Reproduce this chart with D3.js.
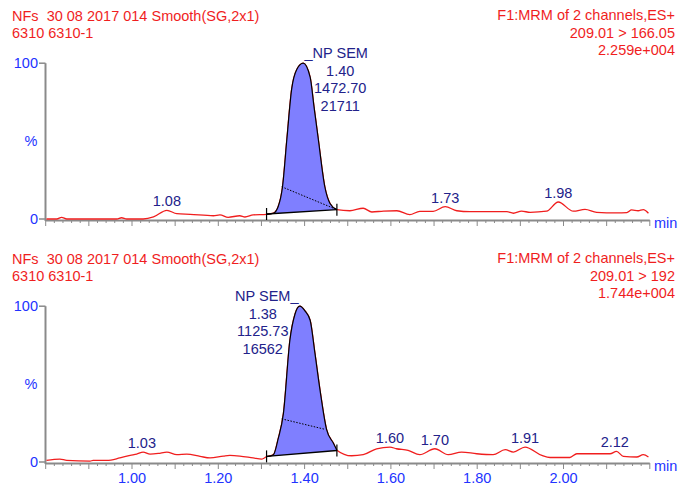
<!DOCTYPE html>
<html><head><meta charset="utf-8">
<script src="https://cdn.jsdelivr.net/npm/d3@7"></script>
<style>
body{margin:0;background:#fff;}
svg{display:block;}
text{font-family:"Liberation Sans",Arial,sans-serif;}
</style>
</head><body>
<svg id="chart" width="683" height="488"></svg>
<script>
// ---------- data ----------
const topHeaderLeft = ["NFs  30 08 2017 014 Smooth(SG,2x1)", "6310 6310-1"];
const topHeaderRight = ["F1:MRM of 2 channels,ES+", "209.01 > 166.05", "2.259e+004"];
const bottomHeaderLeft = ["NFs  30 08 2017 014 Smooth(SG,2x1)", "6310 6310-1"];
const bottomHeaderRight = ["F1:MRM of 2 channels,ES+", "209.01 > 192", "1.744e+004"];

const topTimes = [0.803,0.827,0.838,0.850,0.966,0.977,0.989,1.027,1.051,1.082,1.105,1.136,1.190,1.205,1.224,1.251,1.263,1.282,1.313,1.329,1.340,1.350,1.360,1.371,1.383,1.398,1.414,1.423,1.433,1.448,1.460,1.476,1.506,1.537,1.557,1.584,1.615,1.645,1.668,1.699,1.727,1.754,1.784,1.870,1.885,1.904,1.924,1.962,1.989,2.024,2.051,2.078,2.124,2.148,2.159,2.174,2.186,2.198];
const topValues = [0,0,1.1,0,0,0.8,0,0,1.3,5.6,3.4,3.0,2.1,2.7,1.1,2.1,1.3,2.6,3.0,3.7,8,20.7,51,83,96,100,91,72,51,20.7,10,6.0,5.3,6.9,4.5,5.1,5.3,2.8,4.9,4.9,7.9,5.3,4.7,4.7,3.7,5.0,4.3,5.0,10.9,5.0,6.2,4.3,3.9,4.1,5.8,5.3,6.0,3.7];

const bottomTimes = [0.803,0.834,0.850,0.904,0.911,0.943,0.973,0.997,1.012,1.027,1.043,1.062,1.082,1.105,1.128,1.159,1.182,1.213,1.228,1.251,1.282,1.302,1.313,1.329,1.340,1.352,1.367,1.379,1.390,1.402,1.414,1.425,1.437,1.452,1.468,1.476,1.510,1.537,1.568,1.599,1.614,1.641,1.668,1.703,1.734,1.765,1.800,1.838,1.866,1.885,1.912,1.951,1.970,2.016,2.032,2.109,2.124,2.140,2.171,2.186,2.198];
const bottomValues = [1.0,1.9,1.0,0.6,1.0,1.0,2.6,4.3,5.1,6.4,5.1,5.5,6.4,4.7,5.1,3.6,2.6,3.8,4.2,3.8,2.6,1.9,3.4,4.7,15,31,78,95,100,97,91,70,46,21,12,7.6,4.0,4.7,8.5,9.6,8.5,7.5,4.7,8.5,4.7,6.4,5.3,4.7,7.9,6.4,9.6,4.2,2.9,2.9,5.3,5.3,6.8,3.6,3.2,4.7,3.2];

// integration baseline [start, end] as [time, %]
const topIntegration = [[1.313, 3.2], [1.476, 6.0]];
const topDotted = [[1.348, 20.7], [1.476, 6.0]];
const bottomIntegration = [[1.313, 3.6], [1.476, 7.4]];
const bottomDotted = [[1.348, 27.7], [1.448, 21.0]];

// peak annotation
const topPeakApex = 1.398;
const topPeakText = ["NP SEM", "1.40", "1472.70", "21711"];
const bottomPeakApex = 1.390;
const bottomPeakText = ["NP SEM", "1.38", "1125.73", "16562"];

// small peak labels
const topLabelTimes = [1.082, 1.727, 1.989];
const topLabelValues = [5.6, 7.9, 10.9];
const topLabelTexts = ["1.08", "1.73", "1.98"];
const bottomLabelTimes = [1.024, 1.599, 1.703, 1.912, 2.120];
const bottomLabelValues = [6.4, 9.6, 8.5, 9.6, 6.8];
const bottomLabelTexts = ["1.03", "1.60", "1.70", "1.91", "2.12"];

// axis ticks
const xTickLabels = [1.00, 1.20, 1.40, 1.60, 1.80, 2.00];
const yTickLabels = [0, 100];

// ---------- drawing ----------
const RED = "#f01e1e", BLUE = "#2233ff", NAVY = "#22228a", GRAY = "#8a8a8a", FILL = "#7f7fff";
const FS = "14.5px";
const svg = d3.select("#chart");
svg.append("rect").attr("width",683).attr("height",488).attr("fill","#fff");

const x = d3.scaleLinear().domain([0.8, 2.2]).range([45.2, 649.3]);
const y = d3.scaleLinear().domain([0, 100]).range([219, 63.2]);

const panels = [
  {off:0, hl:topHeaderLeft, hr:topHeaderRight, t:topTimes, v:topValues, integ:topIntegration, dot:topDotted,
   apex:topPeakApex, ptxt:topPeakText, side:1, lt:topLabelTimes, lv:topLabelValues, ls:topLabelTexts, xlabels:false},
  {off:243, hl:bottomHeaderLeft, hr:bottomHeaderRight, t:bottomTimes, v:bottomValues, integ:bottomIntegration, dot:bottomDotted,
   apex:bottomPeakApex, ptxt:bottomPeakText, side:-1, lt:bottomLabelTimes, lv:bottomLabelValues, ls:bottomLabelTexts, xlabels:true}
];

const minorTicks = d3.range(41, 111).map(d => d/50).filter(d => Math.round(d*100) % 10 !== 0);
const majorTicks = d3.range(8, 23).map(d => d/10);

panels.forEach(p => {
  const g = svg.append("g").attr("transform", `translate(0,${p.off})`);

  // headers
  p.hl.forEach((s,i) => g.append("text").attr("x",12).attr("y",20.5+17.2*i)
    .attr("fill",RED).style("font-size",FS).attr("xml:space","preserve").text(s));
  p.hr.forEach((s,i) => g.append("text").attr("x",675).attr("y",20+17.5*i)
    .attr("text-anchor","end").attr("fill",RED).style("font-size",FS).text(s));

  // x axis
  const axY = 220;
  const ax1 = g.append("g").attr("transform",`translate(0,${axY})`)
    .call(d3.axisBottom(x).tickValues(minorTicks).tickSize(3).tickSizeOuter(0).tickFormat(""));
  const ax2 = g.append("g").attr("transform",`translate(0,${axY})`)
    .call(d3.axisBottom(x).tickValues(majorTicks).tickSize(6).tickSizeOuter(0).tickFormat(""));
  [ax1, ax2].forEach(a => {
    a.select(".domain").attr("stroke",GRAY).attr("stroke-width",2);
    a.selectAll(".tick line").attr("stroke",GRAY).attr("stroke-width",1);
  });
  ax2.select(".domain").remove();
  if (p.xlabels) {
    const ax3 = g.append("g").attr("transform",`translate(0,${axY})`)
      .call(d3.axisBottom(x).tickValues(xTickLabels).tickSize(0).tickPadding(10).tickFormat(d3.format(".2f")));
    ax3.select(".domain").remove();
    ax3.selectAll("text").attr("fill",BLUE).style("font-size",FS)
      .style("font-family",'"Liberation Sans",Arial,sans-serif');
  }
  g.append("text").attr("x",654).attr("y",axY+7.5).attr("fill",BLUE).style("font-size",FS).text("min");

  // y axis
  g.append("line").attr("x1",45.5).attr("x2",45.5).attr("y1",y(100)).attr("y2",axY+1)
    .attr("stroke",GRAY).attr("stroke-width",2);
  yTickLabels.forEach(d => {
    g.append("line").attr("x1",39).attr("x2",45.5).attr("y1",y(d)).attr("y2",y(d))
      .attr("stroke",GRAY).attr("stroke-width",1.5);
    g.append("text").attr("x",38).attr("y",y(d)+5).attr("text-anchor","end")
      .attr("fill",BLUE).style("font-size",FS).text(d);
  });
  g.append("text").attr("x",31).attr("y",(y(0)+y(100))/2+5).attr("text-anchor","middle")
    .attr("fill",BLUE).style("font-size",FS).text("%");

  // trace
  const pts = p.t.map((t,i) => [t, p.v[i]]);
  const line = d3.line().x(d => x(d[0])).y(d => y(d[1])).curve(d3.curveMonotoneX);
  g.append("path").attr("d", line(pts)).attr("fill","none").attr("stroke",RED).attr("stroke-width",1.3);

  // integrated peak
  const [s, e] = p.integ;
  const peakPts = pts.filter(d => d[0] >= s[0] - 1e-9 && d[0] <= e[0] + 1e-9);
  const base = t => s[1] + (e[1]-s[1])*(t - s[0])/(e[0]-s[0]);
  const area = d3.area().x(d => x(d[0])).y0(d => y(base(d[0]))).y1(d => y(d[1])).curve(d3.curveMonotoneX);
  g.append("path").attr("d", area(peakPts)).attr("fill",FILL).attr("stroke","none");
  g.append("path").attr("d", line(peakPts)).attr("fill","none").attr("stroke","#000").attr("stroke-width",1.2);
  g.append("line").attr("x1",x(s[0])).attr("y1",y(s[1])).attr("x2",x(e[0])).attr("y2",y(e[1]))
    .attr("stroke","#000").attr("stroke-width",1.4);
  [s, e].forEach(d => g.append("line").attr("x1",x(d[0])).attr("x2",x(d[0]))
    .attr("y1",y(d[1])-6).attr("y2",y(d[1])+6).attr("stroke","#000").attr("stroke-width",1.2));
  g.append("line").attr("x1",x(p.dot[0][0])).attr("y1",y(p.dot[0][1]))
    .attr("x2",x(p.dot[1][0])).attr("y2",y(p.dot[1][1]))
    .attr("stroke","#000").attr("stroke-width",1).attr("stroke-dasharray","1.5,1.5");

  // peak annotation
  const cx = x(p.apex) + 37*p.side;
  p.ptxt.forEach((s2,i) => {
    const t = g.append("text").attr("x",cx).attr("y",y(100)-5+17.6*i).attr("text-anchor","middle")
      .attr("fill",NAVY).style("font-size",FS).text(s2);
    if (i === 0) {
      const w = t.node().getComputedTextLength();
      g.append("text").attr("x", p.side > 0 ? cx - w/2 : cx + w/2).attr("y",y(100)-5)
        .attr("text-anchor", p.side > 0 ? "end" : "start").attr("fill",NAVY).style("font-size",FS).text("_");
    }
  });

  // small peak labels
  p.lt.forEach((t,i) => g.append("text").attr("x",x(t)).attr("y",y(p.lv[i])-4)
    .attr("text-anchor","middle").attr("fill",NAVY).style("font-size",FS).text(p.ls[i]));
});
</script>
</body></html>
